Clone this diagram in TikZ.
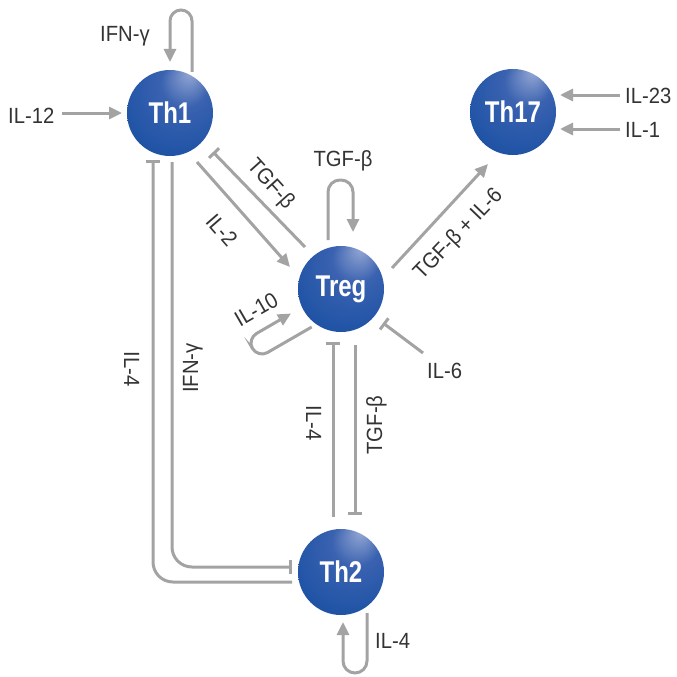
\documentclass[tikz,border=0pt]{standalone}
\usepackage{fontspec}
\usetikzlibrary{arrows.meta}
\newfontfamily\labfont[FakeStretch=0.92]{Liberation Sans}
\newfontfamily\cellfont[FakeStretch=0.8]{Liberation Sans}
\definecolor{linec}{RGB}{163,163,163}
\definecolor{txtc}{RGB}{51,51,51}
\definecolor{hlc}{RGB}{150,168,212}
\definecolor{midc}{RGB}{58,98,176}
\definecolor{basec}{RGB}{33,84,166}
\definecolor{edgec}{RGB}{24,66,142}
\pgfdeclareradialshading{cellball}{\pgfpoint{12bp}{24bp}}{color(0bp)=(hlc); color(14bp)=(midc); color(32bp)=(basec); color(46bp)=(edgec); color(50bp)=(edgec)}
\begin{document}
\begin{tikzpicture}[x=1pt,y=-1pt,
 conn/.style={draw=linec, line width=3pt},
 act/.style={conn, -{Triangle[length=13pt,width=12pt]}},
 inh/.style={conn, -{Bar[width=14pt]}},
 cell/.style={circle, minimum size=86pt, inner sep=0pt, shade, shading=cellball, text=white, font=\cellfont\bfseries\fontsize{30}{30}\selectfont},
 lbl/.style={inner sep=0pt, text=txtc, font=\labfont\fontsize{22}{22}\selectfont},
 rl/.style={lbl, text height=16pt, text depth=0pt}]
\useasboundingbox (0,0) rectangle (677,677);

% cells
\node[cell] (th1) at (170,113) {Th1};
\node[cell] (th17) at (513,112) {Th17};
\node[cell] (treg) at (341,289) {Treg};
\node[cell] (th2) at (341,572) {Th2};

% horizontal labels
\node[lbl, anchor=base west] (il12) at (8,123) {IL-12};
\node[lbl, anchor=base west] (ifng1) at (100,42) {IFN-γ};
\node[lbl, anchor=base west] (il23) at (625,103) {IL-23};
\node[lbl, anchor=base west] (il1) at (625,137) {IL-1};
\node[lbl, anchor=base] (tgfb3) at (343,166) {TGF-β};
\node[lbl, anchor=base west] (il6) at (427,378) {IL-6};
\node[lbl, anchor=base west] (il4c) at (375,648) {IL-4};

% rotated labels
\node[rl, rotate=-48] (tgfb1) at (272,183) {TGF-β};
\node[rl, rotate=-49] (il2) at (222,230) {IL-2};
\node[rl, rotate=46] (tgfil6) at (457,233) {TGF-β + IL-6};
\node[rl, rotate=30] (il10) at (256,309) {IL-10};
\node[rl, rotate=-90] (il4a) at (132,369) {IL-4};
\node[rl, rotate=90] (ifng2) at (190,368) {IFN-γ};
\node[rl, rotate=-90] (il4b) at (314,423) {IL-4};
\node[rl, rotate=90] (tgfb2) at (374,425) {TGF-β};

% connectors
\draw[act] (62,113) -- (122,113);
\draw[act, rounded corners=11pt] (192,72) -- (192,10) -- (170,10) -- (170,62);
\draw[act] (620,95) -- (560,95);
\draw[act] (620,129) -- (560,129);
\draw[act] (197,162) -- (290,267);
\draw[inh] (305,247) -- (213,152);
\draw[act, rounded corners=12pt] (328,240) -- (328,180) -- (353,180) -- (353,232);
\draw[act] (392,268) -- (488,164);
\draw[act, rounded corners=11pt] (311.7,327) -- (258,358) -- (247,339) -- (291,313.5);
\draw[inh] (423,353) -- (383,323);
\draw[inh] (333,517) -- (333,342);
\draw[inh] (355,345) -- (355,515);
\draw[inh, rounded corners=20pt] (292,582) -- (153,582) -- (153,160);
\draw[inh, rounded corners=20pt] (172,162) -- (172,567) -- (292,567);
\draw[act, rounded corners=12pt] (367,613) -- (367,673) -- (343,673) -- (343,622);
\end{tikzpicture}
\end{document}
